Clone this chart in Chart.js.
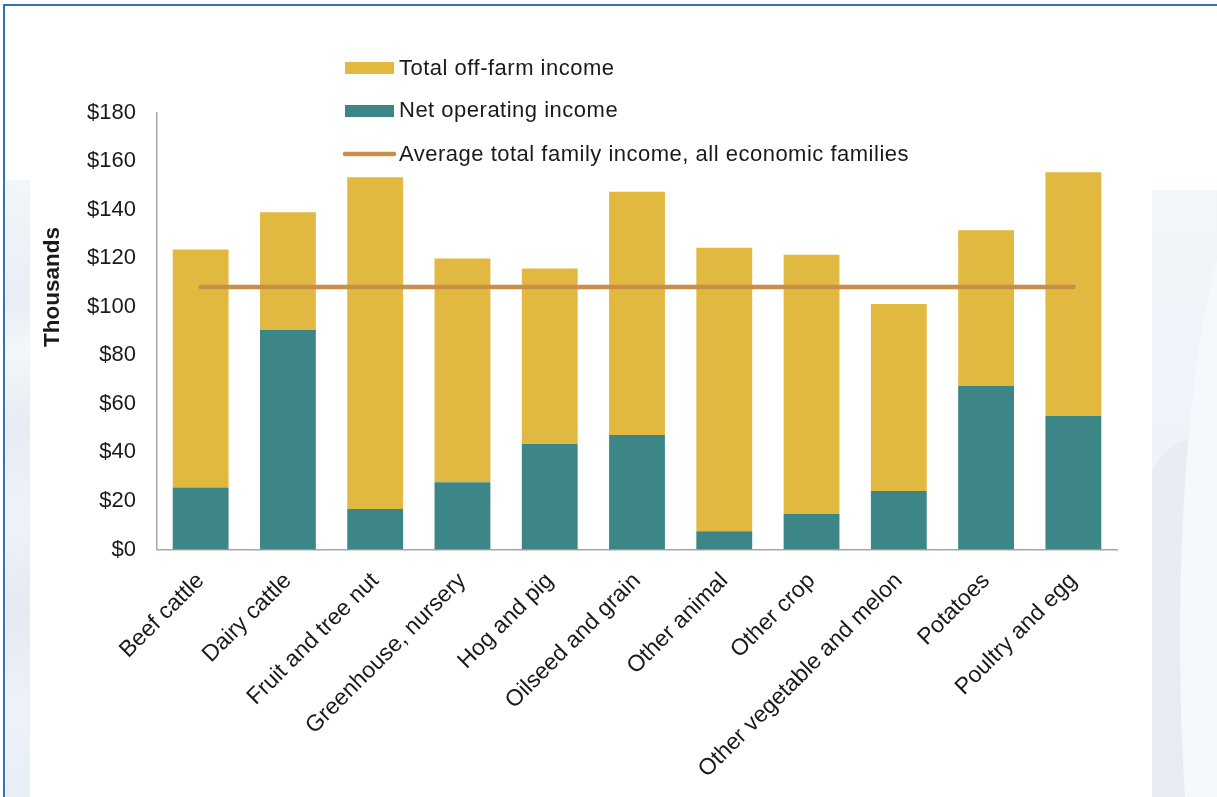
<!DOCTYPE html>
<html>
<head>
<meta charset="utf-8">
<script src="https://cdn.jsdelivr.net/npm/chart.js@4/dist/chart.umd.min.js"></script>
<style>
  html, body { margin: 0; padding: 0; }
  body { width: 1217px; height: 797px; position: relative; overflow: hidden; background: #ffffff; font-family: "Liberation Sans", Arial, sans-serif; }
  #frame { position: absolute; left: 3px; top: 4px; width: 1300px; height: 900px; border-left: 2px solid #2E75B6; border-top: 2px solid #2E75B6; }
  #leftStrip { position: absolute; left: 6px; top: 180px; width: 24px; height: 617px;
    background: linear-gradient(170deg, #f3f6fa 0%, #e8eef6 20%, #f4f7fb 28%, #e6ecf3 40%, #eef3f9 55%, #e4eaf1 70%, #edf2f8 85%, #e7eef6 100%); }
  #rightStrip { position: absolute; left: 1152px; top: 190px; width: 65px; height: 607px; overflow: hidden;
    background: linear-gradient(180deg, #f2f6fb 0%, #e9f0f8 100%); }
  #rightStrip .sw1 { position: absolute; left: 28px; top: 0px; width: 160px; height: 900px; border-radius: 50%; background: #f5f8fc; }
  #rightStrip .sw2 { position: absolute; left: -60px; top: 250px; width: 200px; height: 700px; border-radius: 50%; background: #e4e9ef; opacity: 0.6; }
  #c { position: absolute; left: 0; top: 0; }
</style>
</head>
<body>
<div id="frame"></div>
<div id="leftStrip"></div>
<div id="rightStrip"><div class="sw2"></div><div class="sw1"></div></div>
<canvas id="c" width="1217" height="797"></canvas>
<script>
// ---- Data ----
const categories = ["Beef cattle", "Dairy cattle", "Fruit and tree nut", "Greenhouse, nursery", "Hog and pig", "Oilseed and grain", "Other animal", "Other crop", "Other vegetable and melon", "Potatoes", "Poultry and egg"];
const netOperatingIncome = [25.5, 90.4, 16.7, 27.7, 43.5, 47.2, 7.5, 14.6, 24.1, 67.3, 55.0];
const totalOffFarmIncome = [98.1, 48.5, 136.6, 92.2, 72.2, 100.2, 116.8, 106.8, 77.0, 64.2, 100.4];
const avgFamilyIncome = [108.1, 108.1, 108.1, 108.1, 108.1, 108.1, 108.1, 108.1, 108.1, 108.1, 108.1];
const yTickValues = [0, 20, 40, 60, 80, 100, 120, 140, 160, 180];
const seriesNames = ["Total off-farm income", "Net operating income", "Average total family income, all economic families"];
const yAxisTitle = "Thousands";

const GOLD = "#E1B941", TEAL = "#3C8687", LINEC = "#C98E48", TXT = "#1a1a1a";
const FONT = "'Liberation Sans', Arial, sans-serif";

const legendPlugin = {
  id: 'customLegend',
  afterDraw(chart) {
    const ctx = chart.ctx;
    ctx.save();
    ctx.font = "22px " + FONT;
    if ('letterSpacing' in ctx) ctx.letterSpacing = '0.5px';
    ctx.textBaseline = 'middle';
    ctx.textAlign = 'left';
    ctx.fillStyle = GOLD; ctx.fillRect(345, 62, 49, 12);
    ctx.fillStyle = TEAL; ctx.fillRect(345, 105, 49, 12);
    ctx.strokeStyle = LINEC; ctx.lineWidth = 4.5; ctx.lineCap = 'round';
    ctx.beginPath(); ctx.moveTo(345, 154); ctx.lineTo(394, 154); ctx.stroke();
    ctx.fillStyle = TXT;
    ctx.fillText(seriesNames[0], 399, 69);
    ctx.fillText(seriesNames[1], 399, 111);
    ctx.fillText(seriesNames[2], 399, 155);
    ctx.restore();
    ctx.save();
    ctx.fillStyle = TXT;
    ctx.font = "bold 22.5px " + FONT;
    ctx.textBaseline = 'middle';
    ctx.translate(53, 287);
    ctx.rotate(-Math.PI / 2);
    ctx.textAlign = 'center';
    ctx.fillText(yAxisTitle, 0, 0);
    ctx.restore();
  }
};

new Chart(document.getElementById('c'), {
  type: 'bar',
  data: {
    labels: categories,
    datasets: [
      { type: 'line', label: seriesNames[2], data: avgFamilyIncome, borderColor: LINEC, backgroundColor: LINEC,
        borderWidth: 4.5, pointRadius: 0, borderCapStyle: 'round', stack: 'line', order: 0, tension: 0 },
      { label: seriesNames[1], data: netOperatingIncome, backgroundColor: TEAL, stack: 'bars', order: 1,
        categoryPercentage: 1, barPercentage: 0.64 },
      { label: seriesNames[0], data: totalOffFarmIncome, backgroundColor: GOLD, stack: 'bars', order: 1,
        categoryPercentage: 1, barPercentage: 0.64 }
    ]
  },
  options: {
    responsive: false,
    animation: false,
    layout: { padding: { left: 0, right: 100, top: 112.5, bottom: 0 } },
    plugins: { legend: { display: false }, tooltip: { enabled: false } },
    scales: {
      x: {
        stacked: true,
        grid: { display: false, drawTicks: false },
        border: { display: true, color: '#A6A6A6', width: 1.5 },
        ticks: { color: TXT, font: { family: FONT, size: 23 }, minRotation: 45, maxRotation: 45, padding: 18, autoSkip: false },
        afterFit(scale) { scale.height = 247.5; }
      },
      y: {
        stacked: true,
        min: 0, max: 180,
        afterBuildTicks(scale) { scale.ticks = yTickValues.map(v => ({ value: v })); },
        grid: { display: false, drawTicks: false },
        border: { display: true, color: '#A6A6A6', width: 1.5 },
        ticks: { color: TXT, font: { family: FONT, size: 22 }, padding: 21, callback: v => '$' + v },
        afterFit(scale) { scale.width = 157; }
      }
    }
  },
  plugins: [legendPlugin]
});
</script>
</body>
</html>
